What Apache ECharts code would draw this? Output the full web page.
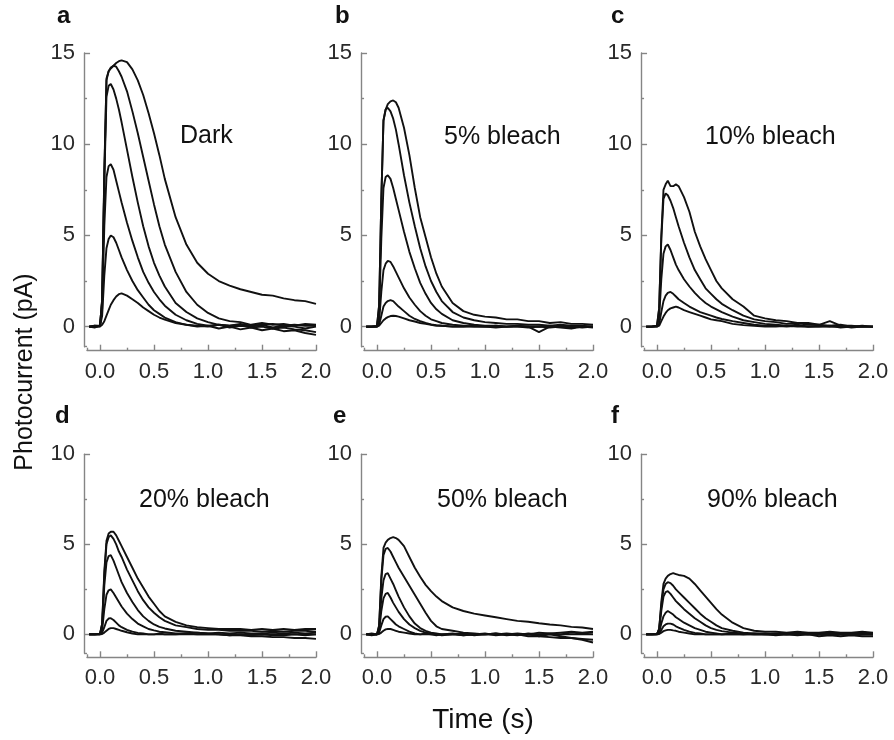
<!DOCTYPE html>
<html><head><meta charset="utf-8">
<script src="https://cdn.jsdelivr.net/npm/echarts@6/dist/echarts.min.js"></script>
<style>html,body{margin:0;padding:0;background:#fff}#c{width:894px;height:740px}</style>
</head><body><div id="c"></div>
<script>
// Time base (s)
const T = [-0.1, -0.05, 0, 0.02, 0.04, 0.06, 0.08, 0.1, 0.125, 0.15, 0.175, 0.2, 0.25, 0.3, 0.35, 0.4, 0.45, 0.5, 0.55, 0.6, 0.7, 0.8, 0.9, 1.0, 1.1, 1.2, 1.3, 1.4, 1.5, 1.6, 1.7, 1.8, 1.9, 2.0];

const xTickLabels = [0, 0.5, 1, 1.5, 2];
const xMinorTicks = [0.25, 0.75, 1.25, 1.75];
const yTicksTop = [0, 5, 10, 15];
const yMinorTop = [2.5, 7.5, 12.5];
const yTicksBottom = [0, 5, 10];
const yMinorBottom = [2.5, 7.5];
const panelLetters = ['a', 'b', 'c', 'd', 'e', 'f'];
const conditions = ['Dark', '5% bleach', '10% bleach', '20% bleach', '50% bleach', '90% bleach'];
const yTitle = 'Photocurrent (pA)';
const xTitle = 'Time (s)';

// Panel a: Dark
const a1 = [0, 0.05, 0.05, 1.5, 8.5, 13.6, 14.0, 14.15, 14.3, 14.45, 14.55, 14.6, 14.5, 14.1, 13.5, 12.7, 11.7, 10.6, 9.4, 8.1, 6.0, 4.5, 3.5, 2.9, 2.5, 2.25, 2.05, 1.9, 1.75, 1.7, 1.55, 1.45, 1.4, 1.25];
const a2 = [0, -0.05, 0.05, 1.5, 8.3, 13.5, 14.0, 14.2, 14.3, 14.25, 14.0, 13.7, 12.9, 11.8, 10.6, 9.3, 8.0, 6.7, 5.5, 4.5, 3.0, 1.9, 1.2, 0.75, 0.45, 0.3, 0.25, 0.1, 0.2, 0.1, 0.15, 0.05, 0.15, 0.1];
const a3 = [0, 0, 0.05, 1.4, 8.0, 12.6, 13.2, 13.3, 13.0, 12.5, 11.9, 11.2, 9.7, 8.2, 6.8, 5.5, 4.4, 3.5, 2.8, 2.2, 1.3, 0.8, 0.45, 0.25, 0.1, 0.05, 0.1, -0.05, 0, -0.1, -0.05, -0.15, -0.2, -0.3];
const a4 = [0, 0.05, 0.03, 1.0, 5.5, 8.2, 8.8, 8.9, 8.6, 8.0, 7.4, 6.8, 5.7, 4.7, 3.8, 3.0, 2.4, 1.9, 1.5, 1.15, 0.65, 0.35, 0.15, 0.05, 0.1, -0.05, 0.05, 0, 0.1, -0.05, 0.05, 0, -0.1, 0];
const a5 = [0, 0, 0.02, 0.6, 2.8, 4.3, 4.8, 5.0, 4.9, 4.6, 4.2, 3.8, 3.1, 2.5, 2.0, 1.6, 1.2, 0.9, 0.7, 0.5, 0.25, 0.1, 0, 0.05, -0.1, 0, -0.15, -0.05, -0.2, -0.1, -0.25, -0.2, -0.35, -0.45];
const a6 = [0, 0, 0, 0.1, 0.3, 0.6, 0.9, 1.2, 1.45, 1.65, 1.78, 1.82, 1.7, 1.5, 1.3, 1.05, 0.85, 0.65, 0.5, 0.38, 0.2, 0.1, 0.05, 0, 0.1, 0.05, 0.15, 0.05, 0.1, 0.15, 0.05, 0.1, 0.05, 0.05];

// Panel b: 5% bleach
const b1 = [0, 0, 0.03, 1.2, 7.0, 11.3, 11.9, 12.2, 12.35, 12.4, 12.3, 12.0, 10.9, 9.4, 7.6, 6.0, 4.9, 3.8, 2.9, 2.2, 1.3, 0.85, 0.65, 0.55, 0.5, 0.4, 0.4, 0.3, 0.3, 0.2, 0.25, 0.15, 0.15, 0.1];
const b2 = [0, 0, 0.03, 1.2, 7.0, 11.3, 11.9, 12.0, 11.8, 11.4, 10.8, 10.0, 8.3, 6.8, 5.5, 4.3, 3.3, 2.5, 1.9, 1.4, 0.8, 0.5, 0.35, 0.25, 0.2, 0.15, 0.15, 0.1, 0.1, 0.05, 0.1, 0.05, 0.05, 0];
const b3 = [0, 0, 0.02, 0.8, 4.8, 7.6, 8.2, 8.3, 8.1, 7.6, 7.0, 6.4, 5.2, 4.1, 3.2, 2.4, 1.8, 1.3, 0.95, 0.7, 0.35, 0.2, 0.1, 0.05, 0.05, 0, 0.05, 0, -0.3, 0, -0.05, -0.1, 0, -0.05];
const b4 = [0, 0, 0, 0.3, 1.9, 3.1, 3.45, 3.6, 3.55, 3.3, 3.0, 2.7, 2.1, 1.6, 1.2, 0.85, 0.6, 0.4, 0.3, 0.2, 0.1, 0.05, 0, 0, 0.05, 0, 0, -0.05, 0, -0.05, 0, 0, -0.05, 0];
const b5 = [0, 0, 0, 0.1, 0.6, 1.1, 1.3, 1.4, 1.45, 1.4, 1.25, 1.1, 0.85, 0.6, 0.42, 0.3, 0.2, 0.12, 0.08, 0.05, 0, 0, 0.05, 0, -0.05, 0, 0.05, 0, 0, 0.05, 0, -0.05, 0, 0];
const b6 = [0, 0, 0, 0.05, 0.2, 0.35, 0.45, 0.52, 0.58, 0.6, 0.58, 0.55, 0.45, 0.35, 0.28, 0.2, 0.15, 0.1, 0.05, 0.05, 0, 0, 0, 0, 0, 0, 0, 0, 0, 0, 0, 0, 0, 0];

// Panel c: 10% bleach
const c1 = [0, 0, 0.05, 1.0, 5.0, 7.5, 7.8, 8.0, 7.7, 7.7, 7.8, 7.7, 7.1, 6.3, 5.2, 4.4, 3.7, 3.1, 2.5, 2.1, 1.5, 1.1, 0.6, 0.45, 0.35, 0.3, 0.2, 0.2, 0.1, 0.3, 0.05, 0.05, 0, 0];
const c2 = [0, 0, 0.05, 1.0, 4.8, 7.0, 7.3, 7.2, 6.9, 6.5, 6.0, 5.5, 4.6, 3.8, 3.1, 2.6, 2.1, 1.8, 1.5, 1.25, 0.9, 0.6, 0.4, 0.3, 0.25, 0.15, 0.2, 0.1, 0.1, 0.05, 0.1, 0, 0.05, 0];
const c3 = [0, 0, 0.03, 0.5, 2.6, 4.0, 4.4, 4.5, 4.2, 3.8, 3.4, 3.1, 2.6, 2.2, 1.85, 1.55, 1.3, 1.1, 0.95, 0.8, 0.55, 0.35, 0.25, 0.15, 0.1, 0.05, 0.1, 0, 0.05, 0, 0.05, -0.05, 0, 0];
const c4 = [0, 0, 0, 0.15, 0.8, 1.4, 1.7, 1.85, 1.9, 1.8, 1.65, 1.5, 1.3, 1.1, 0.95, 0.8, 0.7, 0.6, 0.5, 0.42, 0.3, 0.2, 0.1, 0.05, 0.05, 0, 0.05, 0, 0, 0.05, -0.05, 0, 0, 0];
const c5 = [0, 0, 0, 0.05, 0.3, 0.55, 0.75, 0.9, 1.0, 1.05, 1.1, 1.05, 0.9, 0.8, 0.7, 0.6, 0.5, 0.4, 0.35, 0.3, 0.15, 0.08, 0.05, 0, 0, 0.05, 0, 0, 0, 0, 0, 0, 0, 0];

// Panel d: 20% bleach
const d1 = [0, 0, 0.03, 0.6, 3.5, 5.2, 5.6, 5.7, 5.7, 5.5, 5.2, 4.9, 4.3, 3.7, 3.1, 2.6, 2.1, 1.7, 1.3, 1.0, 0.7, 0.5, 0.4, 0.35, 0.3, 0.3, 0.3, 0.25, 0.3, 0.25, 0.3, 0.25, 0.3, 0.3];
const d2 = [0, 0, 0.03, 0.6, 3.3, 5.0, 5.4, 5.5, 5.3, 5.0, 4.6, 4.3, 3.6, 3.0, 2.4, 1.9, 1.5, 1.2, 0.95, 0.75, 0.5, 0.4, 0.3, 0.25, 0.25, 0.2, 0.2, 0.2, 0.15, 0.2, 0.15, 0.2, 0.2, 0.15];
const d3 = [0, 0, 0.02, 0.5, 2.7, 4.0, 4.35, 4.4, 4.1, 3.7, 3.3, 2.9, 2.3, 1.8, 1.35, 1.0, 0.75, 0.55, 0.42, 0.33, 0.2, 0.15, 0.1, 0.05, 0, -0.05, -0.05, -0.1, -0.1, -0.15, -0.15, -0.2, -0.2, -0.25];
const d4 = [0, 0, 0, 0.25, 1.4, 2.2, 2.45, 2.5, 2.3, 2.05, 1.8, 1.55, 1.15, 0.85, 0.6, 0.45, 0.3, 0.22, 0.15, 0.12, 0.05, 0.05, 0.1, 0.05, 0.1, 0.05, 0.1, 0.05, 0.05, 0.1, 0.05, 0.1, 0.05, 0.1];
const d5 = [0, 0, 0, 0.1, 0.4, 0.75, 0.88, 0.9, 0.8, 0.65, 0.5, 0.4, 0.25, 0.15, 0.08, 0.05, 0, 0, 0.05, 0, 0, 0.05, 0, 0, 0, -0.05, 0, -0.05, 0, -0.05, -0.05, 0, -0.05, 0];
const d6 = [0, 0, 0, 0.02, 0.1, 0.2, 0.3, 0.35, 0.35, 0.3, 0.25, 0.2, 0.12, 0.05, 0, 0, 0, 0, 0, 0, 0, 0, 0, 0, 0, 0, 0, 0, 0, 0, 0, 0, 0, 0];

// Panel e: 50% bleach
const e1 = [0, 0.05, 0, 0.5, 3.2, 4.8, 5.1, 5.25, 5.35, 5.4, 5.35, 5.25, 4.9, 4.3, 3.7, 3.2, 2.75, 2.4, 2.1, 1.85, 1.5, 1.3, 1.15, 1.05, 0.95, 0.85, 0.75, 0.7, 0.62, 0.55, 0.5, 0.42, 0.38, 0.3];
const e2 = [0, -0.05, 0, 0.5, 3.0, 4.4, 4.75, 4.8, 4.6, 4.3, 4.0, 3.7, 3.2, 2.7, 2.2, 1.7, 1.2, 0.75, 0.45, 0.3, 0.2, 0.1, 0.05, 0, 0.05, -0.05, 0, -0.1, -0.1, -0.15, -0.2, -0.2, -0.25, -0.3];
const e3 = [0, 0, 0, 0.35, 2.0, 3.0, 3.35, 3.4, 3.1, 2.8, 2.45, 2.1, 1.5, 1.0, 0.6, 0.35, 0.2, 0.1, 0.05, 0, 0.05, -0.05, 0, 0.05, -0.05, 0, 0.05, 0, -0.1, 0, -0.1, -0.2, -0.3, -0.45];
const e4 = [0, 0, 0, 0.2, 1.3, 2.0, 2.25, 2.3, 2.05, 1.75, 1.5, 1.25, 0.85, 0.55, 0.35, 0.2, 0.1, 0.05, 0, -0.05, 0, 0.05, -0.05, 0, 0.05, 0, -0.05, 0.05, 0, 0.05, 0, 0.1, 0.05, 0.1];
const e5 = [0, 0, 0, 0.1, 0.5, 0.85, 0.98, 1.0, 0.85, 0.7, 0.55, 0.45, 0.3, 0.15, 0.05, 0, 0.05, 0, -0.05, 0, 0, -0.05, 0, 0, 0, 0.05, 0, 0, 0.1, 0.05, 0.1, 0.15, 0.1, 0.15];
const e6 = [0, 0, 0, 0.02, 0.1, 0.2, 0.28, 0.3, 0.3, 0.25, 0.2, 0.15, 0.1, 0.05, 0, 0, 0, 0, 0, 0, 0, 0, 0, 0, 0, 0, 0, 0, 0, 0, 0, 0, 0, 0];

// Panel f: 90% bleach
const f1 = [0, 0, 0.02, 0.3, 1.8, 2.8, 3.1, 3.25, 3.35, 3.4, 3.35, 3.3, 3.25, 3.1, 2.8, 2.45, 2.1, 1.75, 1.4, 1.1, 0.65, 0.35, 0.2, 0.15, 0.15, 0.1, 0.15, 0.1, 0.1, 0.15, 0.1, 0.1, 0.15, 0.1];
const f2 = [0, 0, 0.02, 0.3, 1.6, 2.5, 2.8, 2.9, 2.85, 2.7, 2.5, 2.35, 2.05, 1.75, 1.45, 1.15, 0.9, 0.7, 0.5, 0.35, 0.2, 0.1, 0.05, 0.05, 0, 0.05, 0, 0.05, 0, 0.05, 0, 0.05, 0, 0.05];
const f3 = [0, 0, 0.02, 0.25, 1.3, 2.1, 2.35, 2.4, 2.25, 2.05, 1.85, 1.7, 1.4, 1.15, 0.9, 0.7, 0.5, 0.35, 0.25, 0.18, 0.1, 0.05, 0, 0, -0.05, 0, -0.05, 0, -0.1, -0.05, -0.1, -0.05, -0.1, -0.1];
const f4 = [0, 0, 0, 0.1, 0.6, 1.0, 1.2, 1.3, 1.2, 1.1, 0.95, 0.85, 0.65, 0.5, 0.35, 0.25, 0.15, 0.1, 0.05, 0, 0.05, 0, 0.05, 0, 0.05, 0, 0.05, 0, 0.05, 0, 0.05, 0, 0.05, 0];
const f5 = [0, 0, 0, 0.05, 0.25, 0.45, 0.55, 0.6, 0.6, 0.55, 0.45, 0.38, 0.25, 0.15, 0.08, 0.05, 0, 0, 0, 0, 0, 0, 0, 0, 0, 0, 0, 0, 0, 0, 0, 0, 0, 0];
const f6 = [0, 0, 0, 0.02, 0.1, 0.18, 0.22, 0.25, 0.25, 0.22, 0.2, 0.15, 0.1, 0.05, 0, 0, 0, 0, 0, 0, 0, 0, 0, 0, 0, 0, 0, 0, 0, 0, 0, 0, 0, 0];

const panels = [
  [a1, a2, a3, a4, a5, a6],
  [b1, b2, b3, b4, b5, b6],
  [c1, c2, c3, c4, c5],
  [d1, d2, d3, d4, d5, d6],
  [e1, e2, e3, e4, e5, e6],
  [f1, f2, f3, f4, f5, f6]
];

// ---- layout / style ----
const FONT = '"Liberation Sans", Arial, Helvetica, sans-serif';
const AXIS_COLOR = '#858585';
const LABEL_COLOR = '#2a2a2a';
const XMIN = -0.12, XMAX = 2.0;
const colX0 = [100, 377, 657];           // pixel of t = 0 per column
const pxPerSec = 108;
const rowCfg = [
  { top: 53, height: 293.7, ymin: -1.1, ymax: 15, major: yTicksTop, minor: yMinorTop },
  { top: 454.3, height: 199, ymin: -1.05, ymax: 10, major: yTicksBottom, minor: yMinorBottom }
];

const grids = [], xAxes = [], yAxes = [], series = [];
panels.forEach((curves, i) => {
  const col = i % 3, row = Math.floor(i / 3), rc = rowCfg[row];
  grids.push({ left: colX0[col] + XMIN * pxPerSec, width: (XMAX - XMIN) * pxPerSec, top: rc.top, height: rc.height });
  const lineStyle = { color: AXIS_COLOR, width: 1.4 };
  xAxes.push({
    gridIndex: i, type: 'value', min: XMIN, max: XMAX, position: 'bottom', offset: 4,
    axisLine: { show: true, onZero: false, lineStyle },
    axisTick: { show: true, inside: true, length: 6, customValues: xTickLabels, lineStyle },
    axisLabel: { customValues: xTickLabels, formatter: v => v.toFixed(1), fontSize: 22, color: LABEL_COLOR, margin: 10, fontFamily: FONT },
    splitLine: { show: false }
  });
  xAxes.push({
    gridIndex: i, type: 'value', min: XMIN, max: XMAX, position: 'bottom', offset: 4,
    axisLine: { show: false, onZero: false },
    axisTick: { show: true, inside: true, length: 3, customValues: [XMIN].concat(xMinorTicks), lineStyle },
    axisLabel: { show: false }, splitLine: { show: false }
  });
  yAxes.push({
    gridIndex: i, type: 'value', min: rc.ymin, max: rc.ymax, position: 'left', offset: 3,
    axisLine: { show: true, onZero: false, lineStyle },
    axisTick: { show: true, inside: true, length: 6, customValues: rc.major, lineStyle },
    axisLabel: { customValues: rc.major, fontSize: 22, color: LABEL_COLOR, margin: 9, fontFamily: FONT },
    splitLine: { show: false }
  });
  yAxes.push({
    gridIndex: i, type: 'value', min: rc.ymin, max: rc.ymax, position: 'left', offset: 3,
    axisLine: { show: false, onZero: false },
    axisTick: { show: true, inside: true, length: 3, customValues: [rc.ymin].concat(rc.minor), lineStyle },
    axisLabel: { show: false }, splitLine: { show: false }
  });
  curves.forEach(arr => {
    series.push({
      type: 'line', xAxisIndex: 2 * i, yAxisIndex: 2 * i,
      data: T.map((t, k) => [t, arr[k]]),
      showSymbol: false, symbol: 'none', silent: true, smooth: false,
      lineStyle: { color: '#111', width: 1.9 }
    });
  });
});

const letterPos = [[57, 16], [335, 16], [611, 16], [55, 416], [333, 416], [611, 416]];
const condPos = [[180, 136], [444, 137], [705, 137], [139, 500], [437, 500], [707, 500]];
const graphics = [];
panelLetters.forEach((L, i) => {
  graphics.push({ type: 'text', left: letterPos[i][0], top: letterPos[i][1] - 12, silent: true,
    style: { text: L, fontSize: 24, fontWeight: 'bold', fill: '#111', fontFamily: FONT } });
  graphics.push({ type: 'text', x: condPos[i][0], y: condPos[i][1], silent: true,
    style: { text: conditions[i], fontSize: 25, fill: '#111', fontFamily: FONT, verticalAlign: 'middle', align: 'left' } });
});
graphics.push({ type: 'text', x: 25, y: 372, rotation: Math.PI / 2, silent: true,
  style: { text: yTitle, fontSize: 25, fill: '#111', fontFamily: FONT, align: 'center', verticalAlign: 'middle' } });
graphics.push({ type: 'text', x: 483, y: 720, silent: true,
  style: { text: xTitle, fontSize: 28, fill: '#111', fontFamily: FONT, align: 'center', verticalAlign: 'middle' } });

const chart = echarts.init(document.getElementById('c'), null, { renderer: 'canvas' });
chart.setOption({
  animation: false,
  backgroundColor: '#fff',
  grid: grids, xAxis: xAxes, yAxis: yAxes, series: series,
  graphic: graphics
});
</script></body></html>
